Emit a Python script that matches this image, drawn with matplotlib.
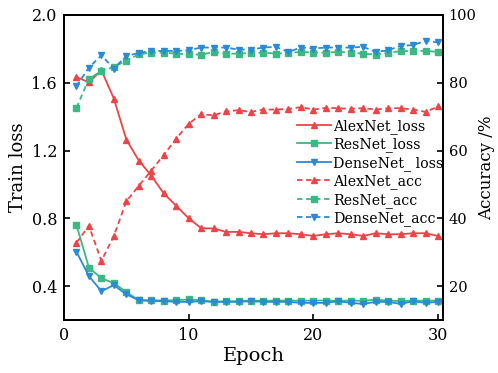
import matplotlib.pyplot as plt

plt.rcParams['font.family'] = ['DejaVu Serif']
plt.rcParams['mathtext.fontset'] = 'dejavuserif'

epochs = list(range(1, 31))

# training loss
alexnet_loss = [1.634, 1.603, 1.674, 1.506, 1.265, 1.141, 1.052, 0.947, 0.874, 0.800,
                0.742, 0.740, 0.720, 0.720, 0.712, 0.706, 0.712, 0.712, 0.706, 0.696,
                0.706, 0.712, 0.706, 0.696, 0.712, 0.706, 0.706, 0.712, 0.712, 0.696]
resnet_loss = [0.761, 0.509, 0.446, 0.418, 0.364, 0.317, 0.317, 0.315, 0.317, 0.321,
               0.317, 0.307, 0.311, 0.311, 0.315, 0.313, 0.315, 0.315, 0.313, 0.315,
               0.315, 0.313, 0.315, 0.313, 0.320, 0.315, 0.311, 0.315, 0.313, 0.315]
densenet_loss = [0.603, 0.459, 0.370, 0.406, 0.351, 0.317, 0.311, 0.311, 0.307, 0.307,
                 0.311, 0.307, 0.307, 0.307, 0.311, 0.307, 0.307, 0.307, 0.301, 0.301,
                 0.301, 0.311, 0.301, 0.295, 0.307, 0.307, 0.295, 0.311, 0.301, 0.307]

# accuracy, %
alexnet_acc = [32.8, 37.8, 27.4, 34.8, 45.0, 49.6, 54.1, 58.7, 63.5, 67.9,
               70.7, 70.4, 71.6, 71.9, 71.4, 72.1, 72.1, 72.3, 72.8, 72.1,
               72.6, 72.5, 72.3, 72.5, 72.1, 72.5, 72.5, 72.1, 71.4, 73.0]
resnet_acc = [72.6, 81.2, 83.4, 84.7, 86.5, 88.4, 88.9, 88.9, 88.6, 88.4,
              88.3, 89.1, 88.6, 88.6, 88.8, 88.9, 88.6, 88.8, 89.1, 88.9,
              88.9, 89.1, 88.9, 88.6, 88.3, 88.9, 89.3, 89.4, 89.4, 89.1]
densenet_acc = [79.0, 84.5, 88.1, 84.2, 87.9, 88.8, 89.4, 89.4, 89.4, 89.6,
                90.4, 90.4, 90.4, 89.8, 89.8, 90.4, 90.6, 89.1, 90.4, 90.1,
                90.4, 90.4, 90.4, 90.6, 89.1, 89.6, 90.9, 91.1, 92.4, 91.9]

red = '#ee4448'
green = '#3cb882'
blue = '#2b8ad6'

fig = plt.figure(figsize=(4.98, 3.73), dpi=100)
ax = fig.add_axes([0.1285, 0.1421, 0.7611, 0.8177])
ax2 = ax.twinx()

tri = dict(lw=1.3, ms=4.6)
sq = dict(lw=1.3, ms=3.8)
dash = (0, (3, 2))
l1, = ax.plot(epochs, alexnet_loss, '-', marker='^', color=red, label='AlexNet_loss', **tri)
l2, = ax.plot(epochs, resnet_loss, '-', marker='s', color=green, label='ResNet_loss', **sq)
l3, = ax.plot(epochs, densenet_loss, '-', marker='v', color=blue, label='DenseNet_ loss', **tri)
l4, = ax2.plot(epochs, alexnet_acc, ls=dash, marker='^', color=red, label='AlexNet_acc', **tri)
l5, = ax2.plot(epochs, resnet_acc, ls=dash, marker='s', color=green, label='ResNet_acc', **sq)
l6, = ax2.plot(epochs, densenet_acc, ls=dash, marker='v', color=blue, label='DenseNet_acc', **tri)

ax.set_xlim(0, 30.4)
ax.set_ylim(0.2, 2.0)
ax2.set_ylim(10, 100)
ax.set_xticks([0, 10, 20, 30])
ax.set_yticks([0.4, 0.8, 1.2, 1.6, 2.0])
ax2.set_yticks([20, 40, 60, 80, 100])

ax.set_xlabel('Epoch', fontsize=14, labelpad=2)
ax.set_ylabel('Train loss', fontsize=13, labelpad=3)
ax2.set_ylabel('Accuracy /%', fontsize=12, labelpad=1)

for a in (ax, ax2):
    a.tick_params(direction='in', length=4, width=1.2, labelsize=11.5, pad=5)
    for s in a.spines.values():
        s.set_linewidth(1.4)
ax2.tick_params(labelsize=10.5, pad=4)

handles = [l1, l2, l3, l4, l5, l6]
ax2.legend(handles=handles, labels=[h.get_label() for h in handles],
           loc='upper left', bbox_to_anchor=(297 / 498, 1 - 119 / 373),
           bbox_transform=fig.transFigure, frameon=False, fontsize=10.2,
           handlelength=2.4, handletextpad=0.15, labelspacing=0.25,
           borderpad=0, borderaxespad=0)

fig.savefig('out.png', dpi=100)
